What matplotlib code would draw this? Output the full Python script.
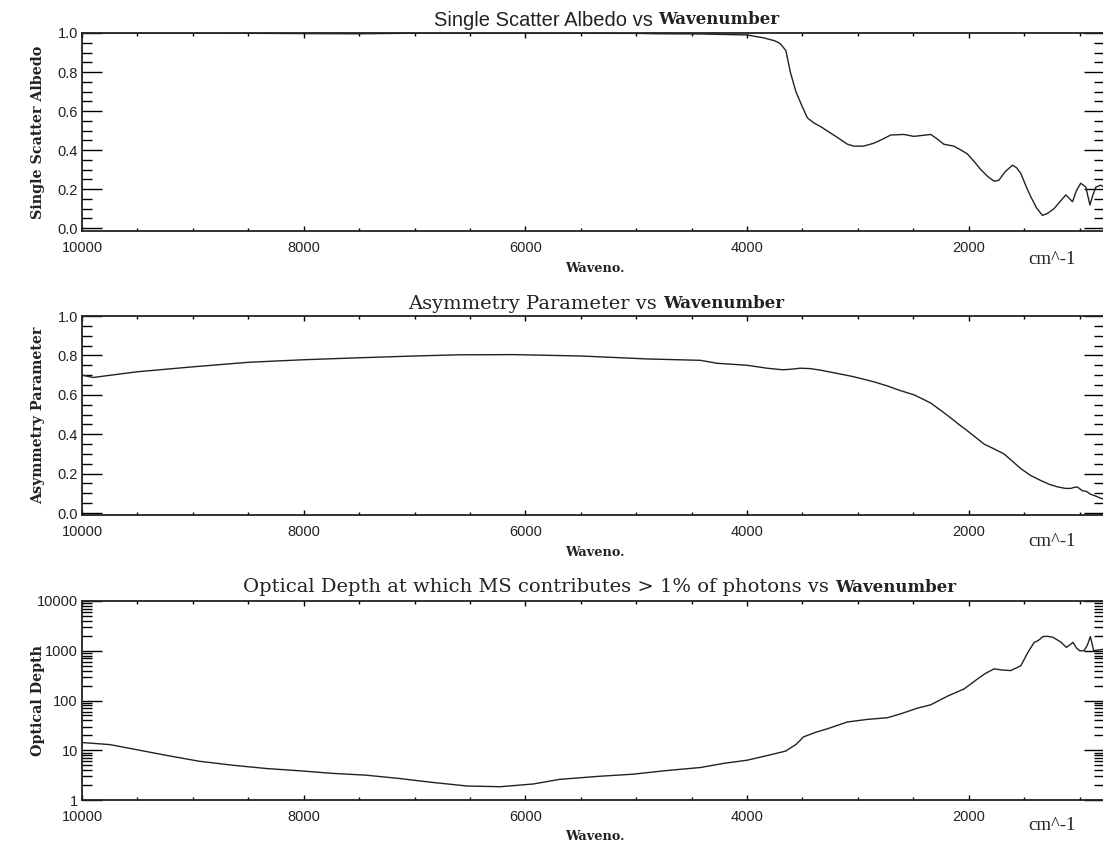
import numpy as np
import matplotlib
matplotlib.use("Agg")
import matplotlib.pyplot as plt
from matplotlib.ticker import MultipleLocator, FixedLocator, FixedFormatter, LogLocator, NullFormatter

# ---- data (wavenumber in cm^-1) ----
albedo_wn = [10000, 9000, 8000, 7500, 7000, 6000, 5000, 4800, 4420, 4000, 3850, 3750,
             3700, 3650, 3610, 3560, 3500, 3456, 3400, 3336, 3200, 3095, 3037, 2950,
             2856, 2780, 2705, 2585, 2495, 2420, 2343, 2280, 2226, 2135, 2070, 2012,
             1950, 1892, 1830, 1771, 1729, 1670, 1606, 1570, 1530, 1480, 1440, 1390,
             1336, 1290, 1230, 1170, 1124, 1064, 1030, 990, 944, 907, 880, 853, 810, 780]
albedo = [1.0, 1.0, 0.997, 0.996, 0.999, 0.999, 0.998, 0.996, 0.995, 0.99, 0.975, 0.96,
          0.945, 0.91, 0.80, 0.70, 0.62, 0.565, 0.54, 0.52, 0.47, 0.43, 0.42, 0.42,
          0.435, 0.455, 0.477, 0.48, 0.47, 0.475, 0.48, 0.455, 0.43, 0.42, 0.40, 0.38,
          0.34, 0.30, 0.265, 0.24, 0.245, 0.29, 0.322, 0.31, 0.28, 0.21, 0.16, 0.105,
          0.065, 0.075, 0.10, 0.14, 0.17, 0.135, 0.19, 0.23, 0.21, 0.118, 0.17, 0.21, 0.22, 0.21]

asym_wn = [10000, 9900, 9500, 9000, 8500, 8000, 7500, 7000, 6600, 6100, 5500, 4900,
           4420, 4270, 4000, 3820, 3680, 3600, 3520, 3430, 3336, 3200, 3065, 2975,
           2850, 2735, 2620, 2495, 2420, 2343, 2250, 2163, 2090, 2012, 1940, 1862,
           1770, 1682, 1610, 1530, 1440, 1350, 1270, 1200, 1130, 1080, 1050, 1020,
           975, 940, 900, 850, 810, 780]
asym = [0.70, 0.688, 0.717, 0.742, 0.765, 0.778, 0.788, 0.797, 0.803, 0.804, 0.797, 0.782,
        0.775, 0.76, 0.75, 0.735, 0.727, 0.73, 0.735, 0.733, 0.725, 0.71, 0.695, 0.683,
        0.665, 0.645, 0.622, 0.60, 0.58, 0.558, 0.52, 0.483, 0.45, 0.417, 0.385, 0.35,
        0.325, 0.30, 0.265, 0.225, 0.19, 0.165, 0.145, 0.133, 0.125, 0.125, 0.13, 0.132,
        0.113, 0.11, 0.095, 0.085, 0.075, 0.07]

depth_wn = [10000, 9750, 9480, 9240, 8940, 8640, 8340, 8040, 7740, 7440, 7140, 6840,
            6526, 6226, 5928, 5690, 5330, 5030, 4730, 4420, 4200, 4000, 3800, 3653,
            3560, 3490, 3380, 3276, 3095, 2915, 2734, 2614, 2464, 2343, 2193, 2042,
            1922, 1850, 1771, 1700, 1620, 1530, 1470, 1410, 1374, 1330, 1290, 1240,
            1170, 1120, 1090, 1060, 1030, 1000, 960, 930, 903, 885, 873, 840, 810, 780]
depth = [14.3, 13, 10, 7.9, 6.0, 5.0, 4.3, 3.87, 3.43, 3.16, 2.71, 2.26,
         1.91, 1.85, 2.1, 2.6, 3.0, 3.3, 3.9, 4.5, 5.5, 6.3, 8.0, 9.6,
         13, 18.6, 23, 27, 37, 41.7, 45, 54, 70, 82, 122, 171,
         270, 350, 433, 410, 400, 500, 900, 1475, 1600, 1930, 1950, 1860,
         1500, 1170, 1300, 1475, 1150, 1000, 1000, 1300, 1930, 1300, 1000, 1030, 1050, 1080]

x_major = [10000, 8000, 6000, 4000, 2000]
x_labels = ["10000", "8000", "6000", "4000", "2000"]
depth_major = [1, 10, 100, 1000, 10000]
depth_labels = ["1", "10", "100", "1000", "10000"]

W, H = 1103, 844
fig = plt.figure(figsize=(W / 100, H / 100), dpi=100)

TICK_FAMILY = "Liberation Sans"
TICK_SIZE = 10.5
SERIF = "DejaVu Serif"
INK = "#222222"


def px_box(left, top, right, bottom):
    return [left / W, 1 - bottom / H, (right - left) / W, (bottom - top) / H]


def style_axes(ax):
    ax.set_xlim(10000, 780)
    ax.xaxis.set_major_locator(FixedLocator(x_major))
    ax.xaxis.set_major_formatter(FixedFormatter(x_labels))
    ax.xaxis.set_minor_locator(MultipleLocator(500))
    ax.tick_params(axis="x", which="major", direction="in", top=True, length=3.5, width=1, pad=7)
    ax.tick_params(axis="x", which="minor", direction="in", top=True, length=2.5, width=1)
    ax.tick_params(axis="y", which="major", direction="in", right=True, length=14.5, width=1, pad=3)
    ax.tick_params(axis="y", which="minor", direction="in", right=True, length=7, width=1)
    for lab in ax.get_xticklabels() + ax.get_yticklabels():
        lab.set_fontfamily(TICK_FAMILY)
        lab.set_fontsize(TICK_SIZE)
        lab.set_color(INK)
    for sp in ax.spines.values():
        sp.set_linewidth(1.3)
        sp.set_color(INK)
    ax.yaxis.set_label_coords(-0.036, 0.5)


def title_two_part(split_px, y_px, plain, bold, plain_family, size):
    fig.text(split_px / W, 1 - y_px / H, plain, ha="right", va="center",
             family=plain_family, fontsize=size, color=INK)
    fig.text(split_px / W, 1 - y_px / H, bold, ha="left", va="center",
             family=SERIF, fontweight="bold", fontsize=12, color=INK)


def xlabel_text(y_px, cm_y_px):
    fig.text(595 / W, 1 - y_px / H, "Waveno.", ha="center", va="center",
             family=SERIF, fontweight="bold", fontsize=9.3, color=INK)
    fig.text(1052 / W, 1 - cm_y_px / H, "cm^-1", ha="center", va="center",
             family="Liberation Serif", fontsize=13.5, color=INK)


def ylabel_text(ax, text):
    ax.set_ylabel(text, family=SERIF, fontweight="bold", fontsize=10.3, color=INK)


# ---- panel 1: single scatter albedo ----
ax1 = fig.add_axes(px_box(82, 33, 1104, 231))
ax1.plot(albedo_wn, albedo, color=INK, lw=1.0)
ax1.set_ylim(-0.015, 1.0)
ax1.yaxis.set_major_locator(MultipleLocator(0.2))
ax1.yaxis.set_minor_locator(MultipleLocator(0.05))
ax1.yaxis.set_major_formatter(plt.FuncFormatter(lambda v, p: f"{v:.1f}"))
style_axes(ax1)
ylabel_text(ax1, "Single Scatter Albedo")
title_two_part(658, 20, "Single Scatter Albedo vs ", "Wavenumber", "Liberation Sans", 14.5)
xlabel_text(268, 260)

# ---- panel 2: asymmetry parameter ----
ax2 = fig.add_axes(px_box(82, 316, 1104, 515))
ax2.plot(asym_wn, asym, color=INK, lw=1.0)
ax2.set_ylim(-0.01, 1.0)
ax2.yaxis.set_major_locator(MultipleLocator(0.2))
ax2.yaxis.set_minor_locator(MultipleLocator(0.05))
ax2.yaxis.set_major_formatter(plt.FuncFormatter(lambda v, p: f"{v:.1f}"))
style_axes(ax2)
ylabel_text(ax2, "Asymmetry Parameter")
title_two_part(663, 304, "Asymmetry Parameter vs ", "Wavenumber", SERIF, 14)
xlabel_text(552, 541)

# ---- panel 3: optical depth (log) ----
ax3 = fig.add_axes(px_box(82, 601, 1104, 800))
ax3.plot(depth_wn, depth, color=INK, lw=1.0)
ax3.set_yscale("log")
ax3.set_ylim(1, 10000)
ax3.yaxis.set_major_locator(FixedLocator(depth_major))
ax3.yaxis.set_major_formatter(FixedFormatter(depth_labels))
ax3.yaxis.set_minor_locator(LogLocator(base=10, subs=np.arange(2, 10)))
ax3.yaxis.set_minor_formatter(NullFormatter())
style_axes(ax3)
ylabel_text(ax3, "Optical Depth")
title_two_part(835, 587, "Optical Depth at which MS contributes > 1% of photons vs ", "Wavenumber", SERIF, 14)
xlabel_text(836, 825)

fig.savefig("out.png", dpi=100)
